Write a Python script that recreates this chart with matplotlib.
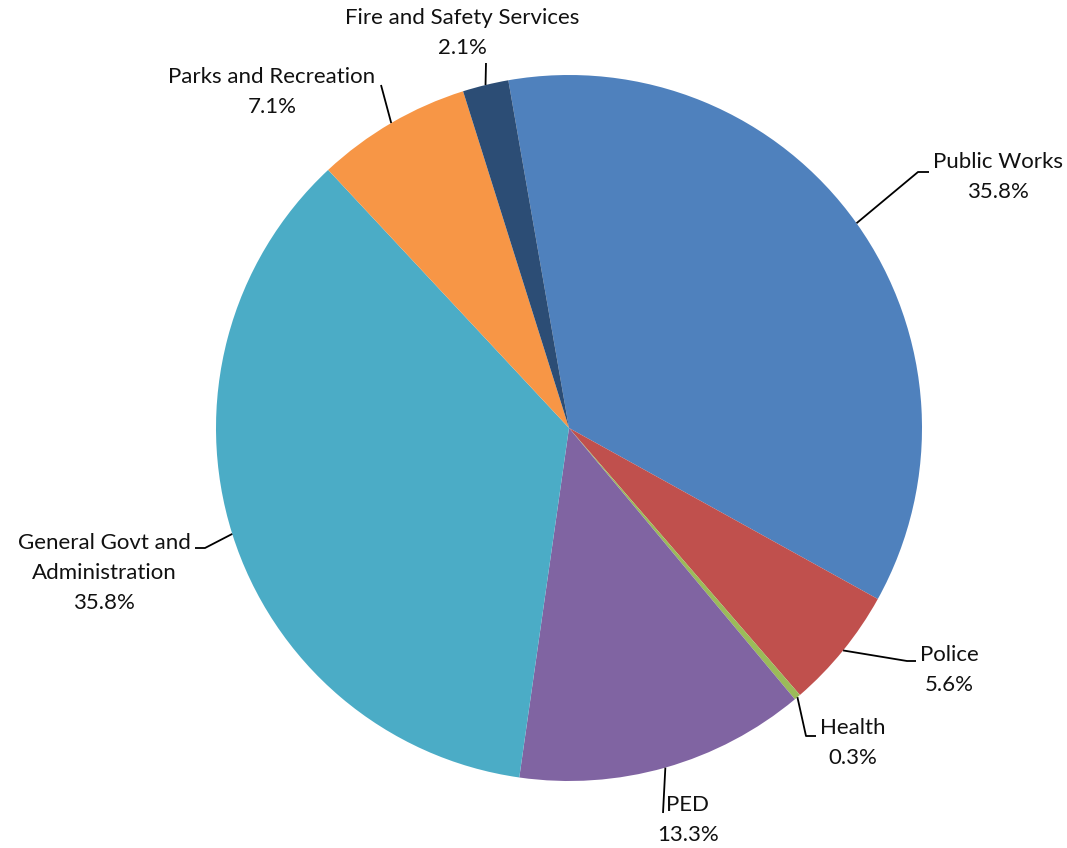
import matplotlib.pyplot as plt
import numpy as np

categories = ["Public Works", "Police", "Health", "PED",
              "General Govt and\nAdministration", "Parks and Recreation",
              "Fire and Safety Services"]
shares = [35.8, 5.6, 0.3, 13.3, 35.8, 7.1, 2.1]
colors = ["#4F81BD", "#C0504D", "#9BBB59", "#8064A2",
          "#4BACC6", "#F79646", "#2C4D75"]

W, H = 1067, 848
cx, cy, R = 569, H - 428, 353
start = 99.9  # degrees, counterclockwise from +x

fig = plt.figure(figsize=(W / 100, H / 100), dpi=100)
ax = fig.add_axes([0, 0, 1, 1])

wedges, _ = ax.pie(shares, colors=colors, startangle=start, counterclock=False,
                   center=(cx, cy), radius=R, frame=True,
                   wedgeprops=dict(linewidth=0))
ax.set_xlim(0, W)
ax.set_ylim(0, H)
ax.set_aspect("equal")
ax.axis("off")

# label layout: (elbow point, end point, text center) in pixel coords from top
layout = [
    ((918, 172), (929, 172), (998, 177)),
    ((907, 661), (916, 661), (949, 670)),
    ((806, 736), (816, 736), (853, 743)),
    ((663, 813), (663, 813), (688, 820)),
    ((205, 548), (195, 548), (104, 573)),
    ((381, 85), (381, 85), (272, 92)),
    ((486, 63), (486, 63), (462, 33)),
]

for w, lab, val, (elb, end, txt) in zip(wedges, categories, shares, layout):
    mid = np.deg2rad((w.theta1 + w.theta2) / 2)
    px, py = cx + R * np.cos(mid), cy + R * np.sin(mid)
    xs = [px, elb[0], end[0]]
    ys = [py, H - elb[1], H - end[1]]
    ax.plot(xs, ys, color="black", lw=1.3, solid_capstyle="butt")
    ax.text(txt[0], H - txt[1], f"{lab}\n{val:.1f}%", ha="center", va="center",
            fontsize=16, family="Lato", color="#111111", linespacing=1.6)

fig.savefig("out.png", dpi=100)
